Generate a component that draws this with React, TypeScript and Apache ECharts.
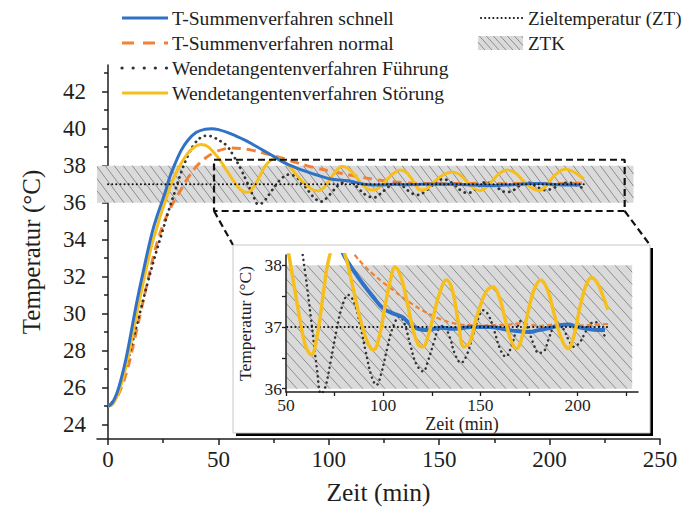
import React, { useEffect, useRef } from "react";
import * as echarts from "echarts";

// ---------- data ----------
const schnellT = [0,2,4,6,8,10,12,14,16,18,20,22,24,26,28,30,33,36,40,44,47,50,54,58,62,66,70,75,80,85,90,95,100,105,110,114,118,122,126,130,135,140,145,150,155,160,165,170,175,180,185,190,195,200,205,210,214];
const schnellV = [25.0,25.2,25.7,26.5,27.5,28.7,30.0,31.2,32.3,33.4,34.4,35.2,35.9,36.6,37.4,38.0,38.8,39.35,39.8,39.97,40.0,39.95,39.8,39.6,39.38,39.12,38.85,38.5,38.15,37.9,37.68,37.48,37.3,37.22,37.16,37.04,36.97,36.95,36.97,36.99,36.97,36.98,37.0,37.0,37.0,36.98,36.95,36.93,36.92,36.95,36.98,37.02,37.04,37.0,36.97,36.95,36.95];

const normalT = [0,3,6,9,12,15,18,21,24,27,30,33,36,40,44,48,52,56,60,65,70,75,80,85,90,95,100,105,110,115,120,125,130,135,140,145,150,155,160,165,170,175,180,185,190,195,200,205,210,216];
const normalV = [25.0,25.3,26.0,27.1,28.6,30.2,31.8,33.3,34.5,35.4,36.1,36.7,37.3,37.95,38.4,38.7,38.88,38.95,38.93,38.84,38.7,38.54,38.37,38.18,38.0,37.85,37.72,37.6,37.48,37.37,37.27,37.19,37.12,37.07,37.04,37.03,37.02,37.03,37.03,37.04,37.06,37.04,37.02,37.03,37.05,37.04,37.02,37.03,37.04,37.05];

const fuehrungT = [0,3,6,9,12,15,18,21,24,27,30,33,36,39,42,45,48,51,54,57,60,63,66,68,70,73,76,79,82,85,88,91,94,96.5,99,102,105,108.5,111,114,117,120.5,123,126,128.5,131,134,137,140,143,146,149,151.5,154,157,160,163,166,168.5,171,174,177,180,182.5,185,187.5,190,193,195.5,198,201,204,206.5,209,212,214.5];
const fuehrungV = [25.0,25.4,26.3,27.5,28.9,30.3,31.7,33.0,34.2,35.4,36.5,37.6,38.5,39.15,39.52,39.62,39.52,39.32,39.05,38.5,37.85,37.1,36.3,35.92,36.0,36.45,36.95,37.35,37.52,37.4,37.05,36.6,36.2,36.06,36.25,36.65,37.0,37.17,37.05,36.7,36.4,36.28,36.45,36.75,36.97,37.02,36.85,36.55,36.42,36.55,36.85,37.15,37.27,37.2,36.95,36.65,36.52,36.7,36.95,37.1,37.0,36.75,36.58,36.6,36.8,37.0,37.08,36.95,36.78,36.68,36.75,36.92,37.05,37.08,36.95,36.82];

const stoerungT = [0,2,4,6,8,10,12,14,16,18,20,22,24,26,28,30,33,36,39,42,45,48,51,54,57,60,63,66,69,72,76,80,84,88,92,95,98,101,104,106,109,112,115,118,120.5,123,126,129,132.5,135.5,138.5,141.5,144.5,147.5,150.5,153.5,156.5,159.5,162.5,165.5,168.5,171.5,174.5,177.5,181,184.5,188,191.5,195,198,201,204,207,210,213,215.5];
const stoerungV = [25.0,25.1,25.5,26.2,27.1,28.2,29.4,30.6,31.7,32.8,33.8,34.6,35.4,36.1,36.8,37.4,38.1,38.65,39.0,39.15,39.05,38.7,38.25,37.7,37.15,36.7,36.55,36.85,37.5,38.1,38.4,38.2,37.7,37.15,36.75,36.63,36.85,37.35,37.8,37.97,37.82,37.45,37.0,36.72,36.68,36.85,37.2,37.55,37.76,37.6,37.1,36.68,36.75,37.1,37.4,37.6,37.65,37.5,37.15,36.8,36.65,36.85,37.25,37.6,37.76,37.6,37.2,36.82,36.65,36.85,37.3,37.65,37.8,37.72,37.5,37.28];

const ztT = [0, 217];
const ztV = [37, 37];
const ztkT = [-5, 238];
const ztkInsetT = [50, 228];
const ztkV = [36, 38];
const zoomT = [48, 234];
const zoomV = [35.55, 38.32];

const xMajor = [0, 50, 100, 150, 200, 250];
const xMinor = [25, 75, 125, 175, 225];
const yMajor = [24, 26, 28, 30, 32, 34, 36, 38, 40, 42];
const yMinor = [25, 27, 29, 31, 33, 35, 37, 39, 41, 43];
const insetXLabels = [50, 100, 150, 200];
const insetXTicks = [50, 75, 100, 125, 150, 175, 200, 225];
const insetYLabels = [36, 37, 38];
const insetYTicks = [36, 36.5, 37, 37.5, 38];

const legendNames = [
  "T-Summenverfahren schnell",
  "T-Summenverfahren normal",
  "Wendetangentenverfahren Führung",
  "Wendetangentenverfahren Störung",
];
const legendNames2 = ["Zieltemperatur (ZT)", "ZTK"];

// ---------- styles ----------
const FONT = '"Liberation Serif", "Times New Roman", serif';
const BLUE = "#2f72c6";
const ORANGE = "#ee8236";
const YELLOW = "#f7bf1c";
const DOTS = "#333333";
const INK = "#1e1e1e";

const pairs = (t: number[], v: number[]) => t.map((x, i) => [x, v[i]]);

function hatchLines(L: number, T: number, R: number, B: number, spacing: number, slope: number, color: string) {
  const h = B - T;
  const dx = h * slope;
  const out: any[] = [];
  for (let c = L - dx; c < R; c += spacing) {
    let x1 = c, y1 = T, x2 = c + dx, y2 = B;
    if (x1 < L) { y1 = T + (L - x1) / slope; x1 = L; }
    if (x2 > R) { y2 = B - (x2 - R) / slope; x2 = R; }
    if (x2 - x1 > 0.3) out.push({ type: "line", silent: true, shape: { x1, y1, x2, y2 }, style: { stroke: color, lineWidth: 1 } });
  }
  return out;
}

const hatchRender = (spacing: number, slope: number) => (_p: any, api: any) => {
  const tl = api.coord([api.value(0), api.value(3)]);
  const br = api.coord([api.value(1), api.value(2)]);
  const L = tl[0], T = tl[1], R = br[0], B = br[1];
  return {
    type: "group",
    children: [
      { type: "rect", shape: { x: L, y: T, width: R - L, height: B - T }, style: { fill: "#dadada" } },
      ...hatchLines(L, T, R, B, spacing, slope, "#8e8e8e"),
    ],
  };
};

const MAIN = { left: 97, top: 65, width: 563, height: 374 };
const INSET = { left: 286, top: 255, width: 352, height: 137 };
const BOX = { x: 233, y: 245, w: 417, h: 188 };

function legendGraphics(): any[] {
  const els: any[] = [];
  const rows = [18, 43, 68, 93];
  const styles = [
    { stroke: BLUE, lineWidth: 3 },
    { stroke: ORANGE, lineWidth: 3, lineDash: [12, 9] },
    { stroke: DOTS, lineWidth: 3.2, lineDash: [0.1, 11], lineCap: "round" },
    { stroke: YELLOW, lineWidth: 3 },
  ];
  rows.forEach((y, i) => {
    els.push({ type: "line", z: 20, shape: { x1: 122, y1: y, x2: 168, y2: y }, style: styles[i] });
    els.push({ type: "text", z: 20, x: 172, y, style: { text: legendNames[i], font: `19.6px ${FONT}`, fill: INK, textVerticalAlign: "middle", verticalAlign: "middle" } });
  });
  els.push({ type: "line", z: 20, shape: { x1: 481, y1: 18, x2: 525, y2: 18 }, style: { stroke: "#111", lineWidth: 2, lineDash: [0.1, 4], lineCap: "round" } });
  els.push({ type: "text", z: 20, x: 528, y: 18, style: { text: legendNames2[0], font: `19px ${FONT}`, fill: INK, textVerticalAlign: "middle", verticalAlign: "middle" } });
  els.push({ type: "rect", z: 20, shape: { x: 478, y: 36, width: 45, height: 14 }, style: { fill: "#dadada" } });
  hatchLines(478, 36, 523, 50, 7, 0.9, "#8e8e8e").forEach((l) => els.push({ ...l, z: 21 }));
  els.push({ type: "text", z: 20, x: 528, y: 43, style: { text: legendNames2[1], font: `19px ${FONT}`, fill: INK, textVerticalAlign: "middle", verticalAlign: "middle" } });
  // inset box
  els.push({ type: "rect", id: "boxShadow", z: 9, shape: { x: BOX.x + 3, y: BOX.y + 3, width: BOX.w, height: BOX.h }, style: { fill: "#000" } });
  els.push({ type: "rect", id: "box", z: 10, shape: { x: BOX.x, y: BOX.y, width: BOX.w, height: BOX.h }, style: { fill: "#fff", stroke: "#c8c8c8", lineWidth: 1 } });
  return els;
}

const axisCommon = {
  axisLine: { show: true, lineStyle: { color: INK, width: 1.5 } },
  splitLine: { show: false },
};

function buildOption(): any {
  const lbl = { fontFamily: FONT, fontSize: 23, color: INK };
  const lblS = { fontFamily: FONT, fontSize: 17.5, color: INK };
  return {
    animation: false,
    backgroundColor: "#fff",
    grid: [
      { ...MAIN, outerBoundsMode: "none", containLabel: false },
      { ...INSET, outerBoundsMode: "none", containLabel: false },
    ],
    xAxis: [
      {
        type: "value", gridIndex: 0, min: -5, max: 250, position: "bottom",
        ...axisCommon,
        axisTick: { show: true, length: 6, lineStyle: { color: INK, width: 1.5 }, customValues: xMajor },
        axisLabel: { ...lbl, margin: 9, customValues: xMajor },
        name: "Zeit (min)", nameLocation: "middle", nameGap: 40,
        nameTextStyle: { fontFamily: FONT, fontSize: 25.5, color: INK },
      },
      {
        type: "value", gridIndex: 0, min: -5, max: 250, position: "bottom",
        axisLine: { show: false }, splitLine: { show: false },
        axisTick: { show: true, length: 4, lineStyle: { color: INK, width: 1.5 }, customValues: xMinor },
        axisLabel: { show: false },
      },
      {
        type: "value", gridIndex: 1, min: 50, max: 231, position: "bottom", z: 13,
        ...axisCommon,
        axisTick: { show: true, length: 4, lineStyle: { color: INK, width: 1.3 }, customValues: insetXTicks },
        axisLabel: { ...lblS, margin: 4, customValues: insetXLabels },
        name: "Zeit (min)", nameLocation: "middle", nameGap: 20,
        nameTextStyle: { fontFamily: FONT, fontSize: 18, color: INK },
      },
    ],
    yAxis: [
      {
        type: "value", gridIndex: 0, min: 23.23, max: 43.44, position: "left",
        ...axisCommon,
        axisTick: { show: true, length: 6, lineStyle: { color: INK, width: 1.5 }, customValues: yMajor },
        axisLabel: { ...lbl, margin: 11, customValues: yMajor },
        name: "Temperatur (°C)", nameLocation: "middle", nameGap: 53,
        nameTextStyle: { fontFamily: FONT, fontSize: 25, color: INK },
      },
      {
        type: "value", gridIndex: 0, min: 23.23, max: 43.44, position: "left",
        axisLine: { show: false }, splitLine: { show: false },
        axisTick: { show: true, length: 4, lineStyle: { color: INK, width: 1.5 }, customValues: yMinor },
        axisLabel: { show: false },
      },
      {
        type: "value", gridIndex: 1, min: 35.947, max: 38.167, position: "left", z: 13,
        ...axisCommon,
        axisTick: { show: true, length: 4, lineStyle: { color: INK, width: 1.3 }, customValues: insetYTicks },
        axisLabel: { ...lblS, margin: 4, customValues: insetYLabels },
        name: "Temperatur (°C)", nameLocation: "middle", nameGap: 24,
        nameTextStyle: { fontFamily: FONT, fontSize: 17.5, color: INK },
      },
    ],
    graphic: legendGraphics(),
    series: [
      // main chart
      { type: "custom", name: "ZTK", xAxisIndex: 0, yAxisIndex: 0, z: 1, silent: true,
        renderItem: hatchRender(9, 0.75), data: [[ztkT[0], ztkT[1], ztkV[0], ztkV[1]]] },
      { type: "line", name: legendNames[1], xAxisIndex: 0, yAxisIndex: 0, z: 3, smooth: 0.4, showSymbol: false,
        data: pairs(normalT, normalV), lineStyle: { color: ORANGE, width: 3, type: [9, 6] } },
      { type: "line", name: legendNames[2], xAxisIndex: 0, yAxisIndex: 0, z: 3, smooth: 0.4, showSymbol: false,
        data: pairs(fuehrungT, fuehrungV), lineStyle: { color: DOTS, width: 2.8, type: [0.1, 5.5], cap: "round" } },
      { type: "line", name: legendNames[3], xAxisIndex: 0, yAxisIndex: 0, z: 3, smooth: 0.4, showSymbol: false,
        data: pairs(stoerungT, stoerungV), lineStyle: { color: YELLOW, width: 3 } },
      { type: "line", name: legendNames[0], xAxisIndex: 0, yAxisIndex: 0, z: 4, smooth: 0.4, showSymbol: false,
        data: pairs(schnellT, schnellV), lineStyle: { color: BLUE, width: 3 } },
      { type: "line", name: legendNames2[0], xAxisIndex: 0, yAxisIndex: 0, z: 4, showSymbol: false,
        data: pairs(ztT, ztV), lineStyle: { color: "#111", width: 2, type: [0.1, 4], cap: "round" } },
      { type: "line", name: "zoom", xAxisIndex: 0, yAxisIndex: 0, z: 5, showSymbol: false, silent: true,
        data: [[zoomT[0], zoomV[1]], [zoomT[1], zoomV[1]], [zoomT[1], zoomV[0]], [zoomT[0], zoomV[0]], [zoomT[0], zoomV[1]]],
        lineStyle: { color: "#111", width: 2.2, type: [7, 4] } },
      // inset
      { type: "custom", name: "ZTK inset", xAxisIndex: 2, yAxisIndex: 2, z: 11, silent: true,
        renderItem: hatchRender(11, 0.9), data: [[ztkInsetT[0], ztkInsetT[1], ztkV[0], ztkV[1]]] },
      { type: "line", xAxisIndex: 2, yAxisIndex: 2, z: 12, smooth: 0.4, showSymbol: false,
        data: pairs(fuehrungT, fuehrungV), lineStyle: { color: DOTS, width: 2.5, type: [0.1, 5], cap: "round" } },
      { type: "line", xAxisIndex: 2, yAxisIndex: 2, z: 12, smooth: 0.4, showSymbol: false,
        data: pairs(normalT, normalV), lineStyle: { color: ORANGE, width: 2.2, type: [5, 3] } },
      { type: "line", xAxisIndex: 2, yAxisIndex: 2, z: 12, smooth: 0.4, showSymbol: false,
        data: pairs(schnellT, schnellV), lineStyle: { color: BLUE, width: 4 } },
      { type: "line", xAxisIndex: 2, yAxisIndex: 2, z: 12, showSymbol: false,
        data: pairs(ztT, ztV), lineStyle: { color: "#111", width: 2, type: [0.1, 4], cap: "round" } },
      { type: "line", xAxisIndex: 2, yAxisIndex: 2, z: 12, smooth: 0.4, showSymbol: false,
        data: pairs(stoerungT, stoerungV), lineStyle: { color: YELLOW, width: 3.5 } },
    ],
  };
}

export default function App() {
  const ref = useRef<HTMLDivElement>(null);
  useEffect(() => {
    if (!ref.current) return;
    const chart = echarts.init(ref.current, null, { renderer: "svg" });
    chart.setOption(buildOption());
    const a = chart.convertToPixel({ gridIndex: 0 }, [zoomT[0], zoomV[0]]) as number[];
    const b = chart.convertToPixel({ gridIndex: 0 }, [zoomT[1], zoomV[0]]) as number[];
    const conn = { stroke: "#111", lineWidth: 2.2, lineDash: [7, 4] };
    chart.setOption({
      graphic: [
        ...legendGraphics(),
        { type: "line", id: "c1", z: 8, shape: { x1: a[0], y1: a[1], x2: BOX.x, y2: BOX.y }, style: conn },
        { type: "line", id: "c2", z: 8, shape: { x1: b[0], y1: b[1], x2: BOX.x + BOX.w, y2: BOX.y }, style: conn },
      ],
    });
    return () => chart.dispose();
  }, []);
  return <div ref={ref} style={{ position: "fixed", left: 0, top: 0, width: 692, height: 522 }} />;
}
